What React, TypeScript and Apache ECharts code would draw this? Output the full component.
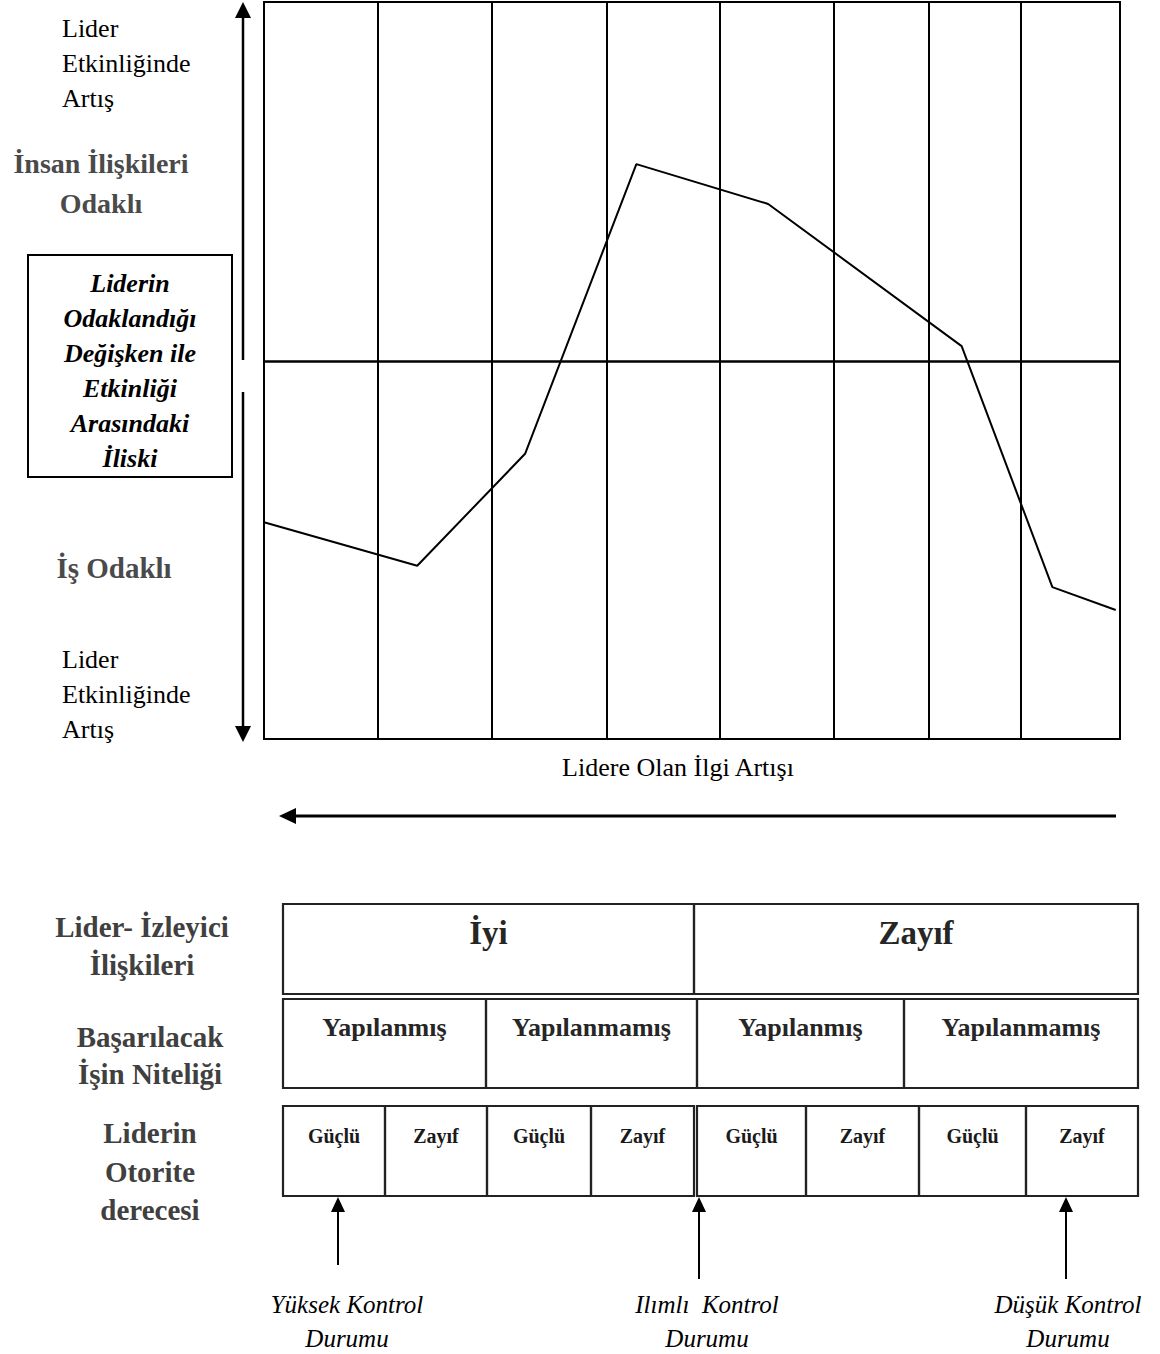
import React, { useEffect, useRef } from "react";
import * as echarts from "echarts";

// ---- data (0–100 scales, bottom/left = 0) ----
const columnBounds = [13.3, 26.6, 40.0, 53.3, 66.6, 77.6, 88.4];
const midLevel = 51.3;
const focusX = [0, 17.9, 30.5, 43.5, 58.9, 81.5, 92.1, 99.5];
const effectivenessY = [29.4, 23.5, 38.7, 78.0, 72.6, 53.3, 20.6, 17.5];

const xAxisTitle = "Lidere Olan İlgi Artışı";
const topLabel = ["Lider", "Etkinliğinde", "Artış"];
const bottomLabel = ["Lider", "Etkinliğinde", "Artış"];
const peopleLabel = ["İnsan İlişkileri", "Odaklı"];
const taskLabel = ["İş Odaklı"];
const boxLabel = ["Liderin", "Odaklandığı", "Değişken ile", "Etkinliği", "Arasındaki", "İliski"];

const rowTitles = [
  ["Lider- İzleyici", "İlişkileri"],
  ["Başarılacak", "İşin Niteliği"],
  ["Liderin", "Otorite", "derecesi"],
];
const relationCells = ["İyi", "Zayıf"];
const taskCells = ["Yapılanmış", "Yapılanmamış", "Yapılanmış", "Yapılanmamış"];
const authorityCells = ["Güçlü", "Zayıf", "Güçlü", "Zayıf", "Güçlü", "Zayıf", "Güçlü", "Zayıf"];
const controlLabels = [
  ["Yüksek Kontrol", "Durumu"],
  ["Ilımlı  Kontrol", "Durumu"],
  ["Düşük Kontrol", "Durumu"],
];

const SERIF = "'Liberation Serif', 'Times New Roman', serif";

function txt(
  text: string,
  x: number,
  baseline: number,
  fs: number,
  opts: { bold?: boolean; italic?: boolean; fill?: string; align?: string } = {}
) {
  return {
    type: "text",
    z: 10,
    style: {
      text,
      x,
      y: baseline - fs * 0.33,
      fontSize: fs,
      fontFamily: SERIF,
      fontWeight: opts.bold ? "bold" : "normal",
      fontStyle: opts.italic ? "italic" : "normal",
      fill: opts.fill || "#000",
      align: opts.align || "center",
      verticalAlign: "middle",
    },
  };
}

function line(x1: number, y1: number, x2: number, y2: number, w: number, color = "#000") {
  return {
    type: "line",
    z: 5,
    shape: { x1, y1, x2, y2 },
    style: { stroke: color, lineWidth: w },
  };
}

function tri(points: number[][], color = "#000") {
  return { type: "polygon", z: 5, shape: { points }, style: { fill: color } };
}

function box(x: number, y: number, w: number, h: number, lw = 2.2, color = "#222") {
  return {
    type: "rect",
    z: 6,
    shape: { x, y, width: w, height: h },
    style: { fill: "none", stroke: color, lineWidth: lw },
  };
}

export default function App() {
  const ref = useRef<HTMLDivElement>(null);
  useEffect(() => {
    document.body.style.margin = "0";
    const chart = echarts.init(ref.current!, undefined, { renderer: "svg" });
    const g: any[] = [];

    // left texts
    topLabel.forEach((s, i) => g.push(txt(s, 62, 37 + i * 35, 26, { align: "left" })));
    bottomLabel.forEach((s, i) => g.push(txt(s, 62, 668 + i * 35, 26, { align: "left" })));
    peopleLabel.forEach((s, i) => g.push(txt(s, 101, 173 + i * 40, 28, { bold: true, fill: "#4a4a4a" })));
    taskLabel.forEach((s) => g.push(txt(s, 114, 578, 29, { bold: true, fill: "#4a4a4a" })));

    // framed box
    g.push({
      type: "rect",
      z: 4,
      shape: { x: 28, y: 255, width: 204, height: 222 },
      style: { fill: "#fff", stroke: "#000", lineWidth: 2 },
    });
    boxLabel.forEach((s, i) =>
      g.push(txt(s, 130, 292 + i * 35, 26, { bold: true, italic: true }))
    );
    g.push({ type: "rect", z: 11, shape: { x: 29, y: 477, width: 202, height: 12 }, style: { fill: "#fff" } });
    g.push({ ...line(28, 477, 232, 477, 2), z: 12 });

    // vertical double arrow
    g.push(line(243, 14, 243, 360, 2.5));
    g.push(tri([[235, 18], [251, 18], [243, 2]]));
    g.push(line(243, 392, 243, 730, 2.5));
    g.push(tri([[235, 726], [251, 726], [243, 742]]));

    // x title + horizontal arrow
    g.push(txt(xAxisTitle, 678, 776, 26));
    g.push(line(292, 816, 1116, 816, 3));
    g.push(tri([[279, 816], [296, 808], [296, 824]]));

    // table row titles
    const titleCenters = [142, 150, 150];
    const titleBase = [[937, 975], [1047, 1084], [1143, 1182, 1220]];
    rowTitles.forEach((rows, r) =>
      rows.forEach((s, i) =>
        g.push(txt(s, titleCenters[r], titleBase[r][i], 29, { bold: true, fill: "#404040" }))
      )
    );

    // row 1
    const r1 = [283, 694, 1138];
    relationCells.forEach((s, i) => {
      g.push(box(r1[i], 904, r1[i + 1] - r1[i], 90));
      g.push(txt(s, (r1[i] + r1[i + 1]) / 2, 944, 33, { bold: true, fill: "#262626" }));
    });
    // row 2
    const r2 = [283, 486, 697, 904, 1138];
    taskCells.forEach((s, i) => {
      g.push(box(r2[i], 999, r2[i + 1] - r2[i], 89));
      g.push(txt(s, (r2[i] + r2[i + 1]) / 2, 1036, 26, { bold: true, fill: "#262626" }));
    });
    // row 3
    const r3 = [283, 385, 487, 591, 694, 697, 806, 919, 1026, 1138];
    const cells3 = [[0, 1], [1, 2], [2, 3], [3, 4], [5, 6], [6, 7], [7, 8], [8, 9]];
    authorityCells.forEach((s, i) => {
      const [a, b] = cells3[i];
      g.push(box(r3[a], 1106, r3[b] - r3[a], 90));
      g.push(txt(s, (r3[a] + r3[b]) / 2, 1143, 20, { bold: true, fill: "#1a1a1a" }));
    });

    // up arrows + control labels
    const arrowX = [338, 699, 1066];
    const arrowEnd = [1265, 1279, 1279];
    const labelX = [347, 707, 1068];
    controlLabels.forEach((ls, i) => {
      const x = arrowX[i];
      g.push(line(x, 1208, x, arrowEnd[i], 2));
      g.push(tri([[x - 7, 1212], [x + 7, 1212], [x, 1197]]));
      ls.forEach((s, j) => g.push(txt(s, labelX[i], 1313 + j * 34, 25, { italic: true })));
    });

    chart.setOption({
      animation: false,
      backgroundColor: "#fff",
      grid: {
        left: 264,
        top: 2,
        right: 40,
        bottom: 615,
        show: true,
        borderColor: "#000",
        borderWidth: 2,
        backgroundColor: "transparent",
      },
      xAxis: { type: "value", min: 0, max: 100, show: false },
      yAxis: { type: "value", min: 0, max: 100, show: false },
      series: [
        {
          type: "line",
          data: focusX.map((x, i) => [x, effectivenessY[i]]),
          showSymbol: false,
          symbol: "none",
          lineStyle: { color: "#000", width: 2 },
          silent: true,
          markLine: {
            silent: true,
            symbol: "none",
            label: { show: false },
            lineStyle: { color: "#000", width: 2, type: "solid" },
            data: [
              ...columnBounds.map((v) => ({ xAxis: v })),
              { yAxis: midLevel, lineStyle: { width: 2.5 } },
            ],
          },
        },
      ],
      graphic: g,
    });
    return () => chart.dispose();
  }, []);
  return (
    <div
      ref={ref}
      style={{ position: "absolute", left: 0, top: 0, width: 1160, height: 1354 }}
    />
  );
}
